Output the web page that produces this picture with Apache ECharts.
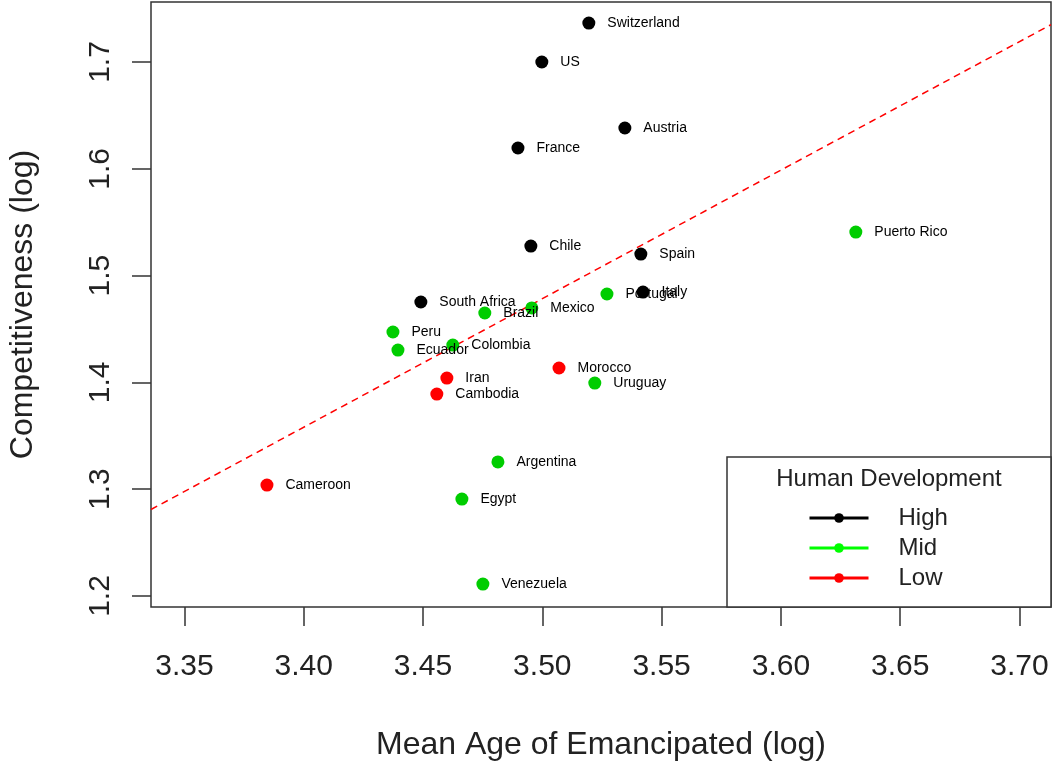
<!DOCTYPE html>
<html>
<head>
<meta charset="utf-8">
<script src="https://cdn.jsdelivr.net/npm/echarts@6/dist/echarts.min.js"></script>
<style>
  html, body { margin: 0; padding: 0; background: #fff; }
  #chart { width: 1053px; height: 761px; }
</style>
</head>
<body>
<div id="chart"></div>
<script>
// ---- data ----
const highNames = ['Switzerland', 'US', 'Austria', 'France', 'Chile', 'Spain', 'Italy', 'South Africa'];
const highX = [3.5195, 3.4998, 3.5346, 3.4898, 3.4952, 3.5413, 3.5422, 3.4491];
const highY = [1.7365, 1.7000, 1.6382, 1.6195, 1.5277, 1.5202, 1.4846, 1.4753];

const midNames = ['Puerto Rico', 'Portugal', 'Brazil', 'Mexico', 'Peru', 'Ecuador', 'Colombia', 'Uruguay', 'Argentina', 'Egypt', 'Venezuela'];
const midX = [3.6314, 3.5271, 3.4759, 3.4956, 3.4374, 3.4395, 3.4625, 3.5220, 3.4814, 3.4663, 3.4751];
const midY = [1.5408, 1.4828, 1.4650, 1.4697, 1.4472, 1.4303, 1.4350, 1.3994, 1.3255, 1.2908, 1.2112];

const lowNames = ['Morocco', 'Iran', 'Cambodia', 'Cameroon'];
const lowX = [3.5070, 3.4600, 3.4558, 3.3846];
const lowY = [1.4135, 1.4041, 1.3891, 1.3039];

// fitted regression line (end points read at the plot edges)
const fitX = [3.336, 3.7132];
const fitY = [1.281, 1.7350];

const xTicks = [3.35, 3.40, 3.45, 3.50, 3.55, 3.60, 3.65, 3.70];
const yTicks = [1.2, 1.3, 1.4, 1.5, 1.6, 1.7];

const groupNames = ['High', 'Mid', 'Low'];
const legendTitle = 'Human Development';
const xTitle = 'Mean Age of Emancipated (log)';
const yTitle = 'Competitiveness (log)';

// ---- build ----
const FONT = "'Liberation Sans', Arial, sans-serif";
function pts(names, xs, ys) {
  return names.map((n, i) => ({ name: n, value: [xs[i], ys[i]] }));
}
function groupSeries(name, color, data) {
  return {
    name: name,
    type: 'line',
    data: data,
    symbol: 'circle',
    symbolSize: 13,
    showSymbol: true,
    lineStyle: { color: color, opacity: 0, width: 1 },
    itemStyle: { color: color },
    label: {
      show: true,
      position: 'right',
      distance: 12,
      formatter: '{b}',
      fontFamily: FONT,
      fontSize: 14,
      color: '#000'
    },
    emphasis: { disabled: true },
    z: 3
  };
}

const chart = echarts.init(document.getElementById('chart'), null, { renderer: 'canvas' });
chart.setOption({
  animation: false,
  backgroundColor: '#fff',
  grid: {
    left: 151, top: 2, right: 2, bottom: 154,
    outerBoundsMode: 'none',
    containLabel: false,
    show: true, borderColor: '#333', borderWidth: 1.5, backgroundColor: 'transparent'
  },
  xAxis: {
    type: 'value',
    min: 3.336, max: 3.7132,
    splitLine: { show: false },
    axisLine: { show: false },
    axisTick: { show: true, length: 19, lineStyle: { color: '#333', width: 1.5 }, customValues: xTicks },
    axisLabel: {
      customValues: xTicks,
      formatter: v => v.toFixed(2),
      fontFamily: FONT, fontSize: 30, color: '#222', margin: 45
    },
    name: xTitle,
    nameLocation: 'middle',
    nameGap: 122,
    nameTextStyle: { fontFamily: FONT, fontSize: 32, color: '#222' }
  },
  yAxis: {
    type: 'value',
    min: 1.1897, max: 1.7562,
    splitLine: { show: false },
    axisLine: { show: false },
    axisTick: { show: true, length: 19, lineStyle: { color: '#333', width: 1.5 }, customValues: yTicks },
    axisLabel: {
      customValues: yTicks,
      rotate: 90,
      formatter: v => v.toFixed(1),
      fontFamily: FONT, fontSize: 30, color: '#222', margin: 35
    },
    name: yTitle,
    nameLocation: 'middle',
    nameGap: 112,
    nameTextStyle: { fontFamily: FONT, fontSize: 32, color: '#222' }
  },
  legend: {
    data: [
      { name: groupNames[0], itemStyle: { color: '#000' }, lineStyle: { color: '#000' } },
      { name: groupNames[1], itemStyle: { color: '#00FF00' }, lineStyle: { color: '#00FF00' } },
      { name: groupNames[2], itemStyle: { color: '#FF0000' }, lineStyle: { color: '#FF0000' } }
    ],
    orient: 'vertical',
    left: 808, top: 506,
    padding: 0,
    itemWidth: 59, itemHeight: 12, itemGap: 6,
    selectedMode: false,
    lineStyle: { width: 3, opacity: 1 },
    textStyle: { fontFamily: FONT, fontSize: 24, color: '#222', padding: [0, 0, 0, 25] },
    z: 10
  },
  graphic: [
    {
      type: 'rect', z: 5,
      shape: { x: 727, y: 457, width: 324, height: 150 },
      style: { fill: '#fff', stroke: '#333', lineWidth: 1.5 }
    },
    {
      type: 'text', z: 6,
      x: 889, y: 479,
      style: { text: legendTitle, fontFamily: FONT, fontSize: 24, fill: '#222', align: 'center', verticalAlign: 'middle' }
    }
  ],
  series: [
    {
      name: 'fit',
      type: 'line',
      data: fitX.map((x, i) => [x, fitY[i]]),
      symbol: 'none',
      lineStyle: { color: '#FF0000', width: 1.5, type: [7, 5] },
      emphasis: { disabled: true },
      z: 2
    },
    groupSeries(groupNames[0], '#000000', pts(highNames, highX, highY)),
    groupSeries(groupNames[1], '#00CD00', pts(midNames, midX, midY)),
    groupSeries(groupNames[2], '#FF0000', pts(lowNames, lowX, lowY))
  ]
});
</script>
</body>
</html>
